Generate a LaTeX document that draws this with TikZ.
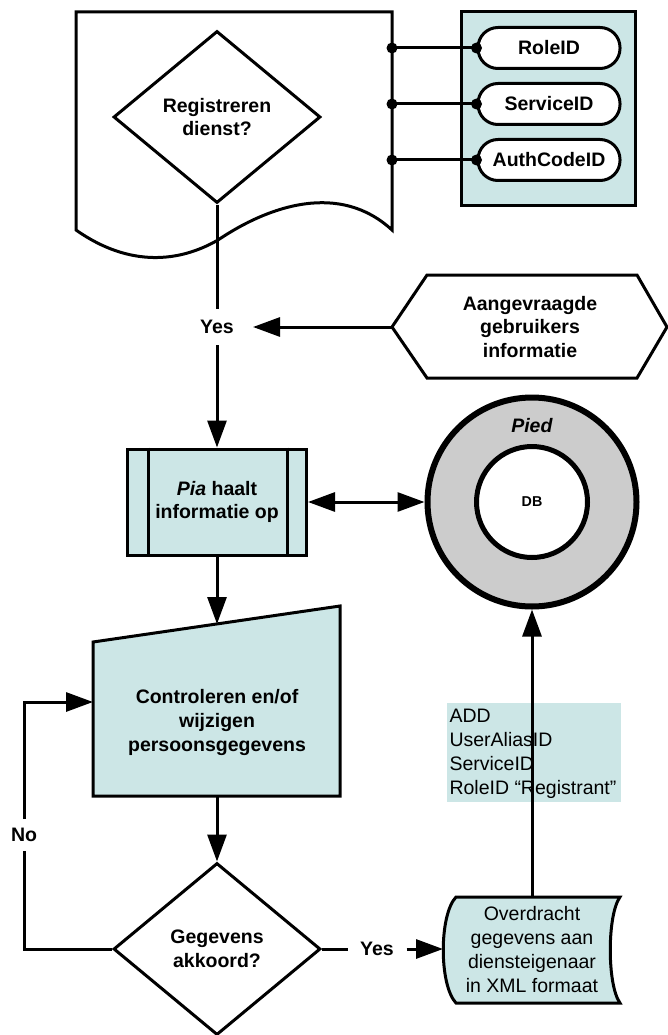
\documentclass[tikz,border=0pt]{standalone}
\usepackage{fontspec}
\setmainfont{Liberation Sans}
\usetikzlibrary{arrows.meta,shapes.geometric,calc}
\definecolor{paleteal}{RGB}{204,230,230}
\definecolor{ringgray}{RGB}{204,204,204}
\begin{document}
\begin{tikzpicture}[x=1pt,y=-1pt,
  line width=3pt,
  every node/.style={font=\fontsize{19.5}{23.5}\selectfont},
  lbl/.style={font=\bfseries\fontsize{19.5}{23.5}\selectfont, align=center, inner sep=0pt},
  flow/.style={-{Triangle[length=27pt,width=19pt]}},
  twoway/.style={{Triangle[length=27pt,width=19pt]}-{Triangle[length=27pt,width=19pt]}},
  decision/.style={diamond, draw, fill=white, lbl, minimum width=207pt, minimum height=172pt},
  pill/.style={draw, fill=white, rounded corners=20pt, minimum width=142pt, minimum height=41pt, lbl},
]
% page
\fill[white] (0,0) rectangle (668,1035);
\useasboundingbox (0,0) rectangle (668,1035);

% document sheet with the first decision
\draw[fill=white] (76,12) -- (392,12) -- (392,230)
  .. controls (340,182) and (270,205) .. (218,240)
  .. controls (180,262) and (130,268) .. (76,230) -- cycle;
\node[decision] (ask) at (217,117) {Registreren\\dienst?};

% identifier panel
\node[draw, fill=paleteal, minimum width=174pt, minimum height=193pt, inner sep=0pt] (ids) at (548,108.5) {};
\node[pill] (role) at (549,48) {RoleID};
\node[pill] (service) at (549,104) {ServiceID};
\node[pill] (auth) at (549,160) {AuthCodeID};
\coordinate (j1) at (392,48);
\coordinate (j2) at (392,104);
\coordinate (j3) at (392,160);
\draw (j1) -- (role.west);
\draw (j2) -- (service.west);
\draw (j3) -- (auth.west);
\foreach \p in {j1,j2,j3,role.west,service.west,auth.west}
  \fill (\p) circle (5.5pt);

% requested user information
\draw[fill=white] (392,327) -- (427,275) -- (637,275) -- (667,327) -- (637,378) -- (427,378) -- cycle;
\node[lbl] (req) at (530,327) {Aangevraagde\\gebruikers\\informatie};
\coordinate (reqL) at (392,327);

\node[lbl, minimum width=69pt, minimum height=33pt] (yes1) at (217,327) {Yes};
\draw (ask.south) -- (yes1.north);
\draw[flow] (reqL) -- (yes1.east);

% Pia fetches information
\node[draw, fill=paleteal, minimum width=179pt, minimum height=106pt, lbl] (pia) at (217,502) {\textit{Pia} haalt\\informatie op};
\draw ([xshift=22pt]pia.north west) -- ([xshift=22pt]pia.south west);
\draw ([xshift=-21pt]pia.north east) -- ([xshift=-21pt]pia.south east);
\draw[flow] (yes1.south) -- (pia.north);

% Pied database
\node[circle, draw, line width=6pt, fill=ringgray, minimum size=209pt, inner sep=0pt] (pied) at (532,502) {};
\node[circle, draw, line width=5pt, fill=white, minimum size=111pt, inner sep=0pt,
      font=\bfseries\fontsize{14.3}{17}\selectfont] (db) at (532,502) {DB};
\node[lbl] (piedlbl) at (532,426) {\textit{Pied}};
\draw[twoway] (pia.east) -- (pied.west);

% manual check of personal data
\draw[fill=paleteal] (93,642) -- (340,606) -- (340,796) -- (93,796) -- cycle;
\node[lbl, font=\bfseries\fontsize{19.5}{24}\selectfont] (check) at (217,722) {Controleren en/of\\wijzigen\\persoonsgegevens};
\coordinate (checkT) at (217,624);
\coordinate (checkL) at (93,702);
\coordinate (checkB) at (217,796);
\draw[flow] (pia.south) -- (checkT);

% second decision
\node[decision] (ok) at (217,949) {Gegevens\\akkoord?};
\draw[flow] (checkB) -- (ok.north);

\node[lbl, minimum width=30pt, minimum height=29pt] (no) at (24,835) {No};
\draw (ok.west) -| (no.south);
\draw[flow] (no.north) |- (checkL);

% transfer to the service owner
\draw[fill=paleteal] (456,897) -- (620,897)
  .. controls (607,915) and (607,985) .. (620,1003) -- (456,1003)
  .. controls (439,985) and (439,915) .. (456,897) -- cycle;
\node[align=center, inner sep=0pt, font=\fontsize{19.5}{24}\selectfont] (xml) at (532,950)
  {Overdracht\\gegevens aan\\diensteigenaar\\in XML formaat};
\coordinate (xmlL) at (443,949);
\coordinate (xmlT) at (532,897);

\node[lbl, minimum width=56pt, minimum height=20pt] (yes2) at (377,949) {Yes};
\draw (ok.east) -- (yes2.west);
\draw[flow] (yes2.east) -- (xmlL);

% message contents
\node[fill=paleteal, anchor=north west, minimum width=174pt, minimum height=99pt, inner sep=0pt] (note) at (445,701) {};
\node[anchor=north west, align=left, inner sep=0pt, font=\fontsize{19.5}{23.7}\selectfont] (notetxt) at (448,708)
  {ADD\\UserAliasID\\ServiceID\\RoleID “Registrant”};
\draw[flow] (xmlT) -- (pied.south);
\end{tikzpicture}
\end{document}
